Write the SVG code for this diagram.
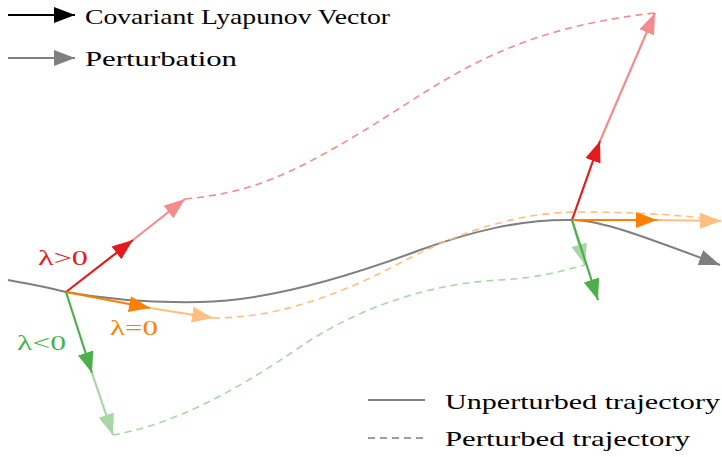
<svg xmlns="http://www.w3.org/2000/svg" width="722" height="457" viewBox="0 0 722 457">
<style>
text{font-family:"Liberation Serif","Times New Roman","DejaVu Serif",serif;font-size:22px}
.vec{stroke-width:2.2;fill:none}
.dash{stroke-width:1.6;fill:none;stroke-dasharray:7 5}
</style>
<defs>
<marker id="mk" markerUnits="userSpaceOnUse" markerWidth="24" markerHeight="20" refX="21" refY="9" orient="auto"><path d="M0,1 L21,9 L0,17 z" fill="#000"/></marker>
<marker id="mg" markerUnits="userSpaceOnUse" markerWidth="24" markerHeight="20" refX="21" refY="9" orient="auto"><path d="M0,1 L21,9 L0,17 z" fill="#7f7f7f"/></marker>
<marker id="mr" markerUnits="userSpaceOnUse" markerWidth="24" markerHeight="20" refX="21" refY="9" orient="auto"><path d="M0,1 L21,9 L0,17 z" fill="#e41a1c"/></marker>
<marker id="mr2" markerUnits="userSpaceOnUse" markerWidth="24" markerHeight="20" refX="21" refY="9" orient="auto"><path d="M0,1 L21,9 L0,17 z" fill="#f28c8d"/></marker>
<marker id="mo" markerUnits="userSpaceOnUse" markerWidth="24" markerHeight="20" refX="21" refY="9" orient="auto"><path d="M0,1 L21,9 L0,17 z" fill="#ff7f00"/></marker>
<marker id="mo2" markerUnits="userSpaceOnUse" markerWidth="24" markerHeight="20" refX="21" refY="9" orient="auto"><path d="M0,1 L21,9 L0,17 z" fill="#ffbf80"/></marker>
<marker id="mgr" markerUnits="userSpaceOnUse" markerWidth="24" markerHeight="20" refX="21" refY="9" orient="auto"><path d="M0,1 L21,9 L0,17 z" fill="#4daf4a"/></marker>
<marker id="mgr2" markerUnits="userSpaceOnUse" markerWidth="24" markerHeight="20" refX="21" refY="9" orient="auto"><path d="M0,1 L21,9 L0,17 z" fill="#a6d7a4"/></marker>
</defs>

<g id="connectors">
<path id="unperturbed" d="M8,280 C30,284 50,288 66,292 C110,300 150,303 200,302 C260,301 340,280 420,250 C470,232 520,219 572,220 C600,220 640,235 720,265" stroke="#7f7f7f" stroke-width="2" fill="none" marker-end="url(#mg)"/>
<path id="pert-red" class="dash" stroke="#f28c8d" d="M185,199 C250,193 290,175 360,133 C440,85 500,30 655,13"/>
<path id="pert-orange" class="dash" stroke="#ffbf80" d="M213,318 C270,318 330,300 400,263 C450,237 510,212 580,212 C640,212 690,216 720,220"/>
<path id="pert-green" class="dash" stroke="#a6d7a4" d="M113,435 C170,425 230,395 300,347 C350,313 420,284 500,280 C540,278 565,270 585,265"/>

<line class="vec" stroke="#f28c8d" x1="133" y1="240" x2="185" y2="199" marker-end="url(#mr2)"/>
<line class="vec" stroke="#e41a1c" x1="66" y1="292" x2="133" y2="240" marker-end="url(#mr)"/>
<line class="vec" stroke="#ffbf80" x1="150" y1="308" x2="213" y2="318" marker-end="url(#mo2)"/>
<line class="vec" stroke="#ff7f00" x1="66" y1="292" x2="150" y2="308" marker-end="url(#mo)"/>
<line class="vec" stroke="#a6d7a4" x1="92" y1="373" x2="113" y2="435" marker-end="url(#mgr2)"/>
<line class="vec" stroke="#4daf4a" x1="66" y1="292" x2="92" y2="373" marker-end="url(#mgr)"/>

<line class="vec" stroke="#f28c8d" x1="600" y1="141" x2="655" y2="13" marker-end="url(#mr2)"/>
<line class="vec" stroke="#e41a1c" x1="572" y1="220" x2="600" y2="141" marker-end="url(#mr)"/>
<line class="vec" stroke="#ffbf80" x1="657" y1="220" x2="721" y2="221" marker-end="url(#mo2)"/>
<line class="vec" stroke="#ff7f00" x1="572" y1="220" x2="657" y2="220" marker-end="url(#mo)"/>
<line class="vec" stroke="#a6d7a4" x1="572" y1="220" x2="585" y2="265" marker-end="url(#mgr2)"/>
<line class="vec" stroke="#4daf4a" x1="572" y1="220" x2="598" y2="300" marker-end="url(#mgr)"/>
</g>

<g id="labels">
<text x="38" y="265" fill="#e41a1c" textLength="50" lengthAdjust="spacingAndGlyphs">λ&gt;0</text>
<text x="110" y="335" fill="#ff7f00" textLength="48" lengthAdjust="spacingAndGlyphs">λ=0</text>
<text x="17" y="350" fill="#4daf4a" textLength="49" lengthAdjust="spacingAndGlyphs">λ&lt;0</text>
</g>

<g id="legend-top">
<line x1="8" y1="15" x2="75" y2="15" stroke="#000" stroke-width="2.2" marker-end="url(#mk)"/>
<text x="85" y="24" fill="#000" textLength="305" lengthAdjust="spacingAndGlyphs">Covariant Lyapunov Vector</text>
<line x1="8" y1="58" x2="75" y2="58" stroke="#7f7f7f" stroke-width="2.2" marker-end="url(#mg)"/>
<text x="85" y="66" fill="#000" textLength="152" lengthAdjust="spacingAndGlyphs">Perturbation</text>
</g>

<g id="legend-bottom">
<line x1="368" y1="400" x2="425" y2="400" stroke="#7f7f7f" stroke-width="2"/>
<text x="445" y="409" fill="#000" textLength="275" lengthAdjust="spacingAndGlyphs">Unperturbed trajectory</text>
<line x1="368" y1="438" x2="425" y2="438" stroke="#7f7f7f" stroke-width="1.6" stroke-dasharray="7 5"/>
<text x="445" y="446" fill="#000" textLength="245" lengthAdjust="spacingAndGlyphs">Perturbed trajectory</text>
</g>
</svg>
